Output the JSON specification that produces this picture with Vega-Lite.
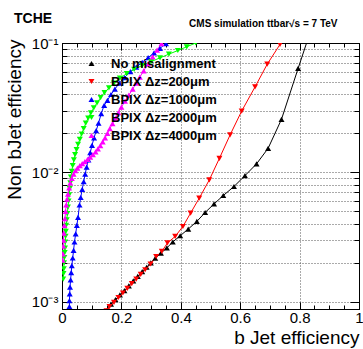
{
  "$schema": "https://vega.github.io/schema/vega-lite/v6.json",
  "width": 297,
  "height": 266,
  "autosize": "none",
  "padding": {"left": 62, "top": 43, "right": 4, "bottom": 40},
  "background": "white",
  "config": {"font": "Liberation Sans", "view": {"stroke": "black", "strokeWidth": 1},
    "legend": {"title": null, "orient": "none", "legendX": 23, "legendY": 14, "padding": 0,
      "labelFont": "Liberation Sans", "labelFontSize": 13, "labelFontWeight": "bold", "labelColor": "black",
      "symbolSize": 36, "symbolStrokeWidth": 0, "symbolOpacity": 1, "rowPadding": 4, "labelOffset": 13, "labelLimit": 300}},
  "title": {"text": "TCHE", "anchor": "start", "frame": "group", "fontSize": 14, "fontWeight": "bold", "font": "Liberation Sans", "color": "black", "dx": -48, "dy": 19, "baseline": "alphabetic", "offset": 0},
  "data": {"values": [
    {"s": "No misalignment", "x": 0.150, "y": 0.00085},
    {"s": "No misalignment", "x": 0.165, "y": 0.00096},
    {"s": "No misalignment", "x": 0.180, "y": 0.00104},
    {"s": "No misalignment", "x": 0.195, "y": 0.00113},
    {"s": "No misalignment", "x": 0.210, "y": 0.00122},
    {"s": "No misalignment", "x": 0.225, "y": 0.00133},
    {"s": "No misalignment", "x": 0.240, "y": 0.00145},
    {"s": "No misalignment", "x": 0.255, "y": 0.00157},
    {"s": "No misalignment", "x": 0.270, "y": 0.00171},
    {"s": "No misalignment", "x": 0.285, "y": 0.00185},
    {"s": "No misalignment", "x": 0.299, "y": 0.00200},
    {"s": "No misalignment", "x": 0.314, "y": 0.00217},
    {"s": "No misalignment", "x": 0.333, "y": 0.00238},
    {"s": "No misalignment", "x": 0.353, "y": 0.00261},
    {"s": "No misalignment", "x": 0.373, "y": 0.00290},
    {"s": "No misalignment", "x": 0.398, "y": 0.00324},
    {"s": "No misalignment", "x": 0.425, "y": 0.00365},
    {"s": "No misalignment", "x": 0.454, "y": 0.00418},
    {"s": "No misalignment", "x": 0.482, "y": 0.00490},
    {"s": "No misalignment", "x": 0.512, "y": 0.00571},
    {"s": "No misalignment", "x": 0.543, "y": 0.00663},
    {"s": "No misalignment", "x": 0.579, "y": 0.00778},
    {"s": "No misalignment", "x": 0.616, "y": 0.00944},
    {"s": "No misalignment", "x": 0.655, "y": 0.01164},
    {"s": "No misalignment", "x": 0.694, "y": 0.01535},
    {"s": "No misalignment", "x": 0.739, "y": 0.0257},
    {"s": "No misalignment", "x": 0.795, "y": 0.0636},
    {"s": "No misalignment", "x": 0.838, "y": 0.126},
    {"s": "BPIX Δz=200μm", "x": 0.150, "y": 0.00085},
    {"s": "BPIX Δz=200μm", "x": 0.160, "y": 0.00092},
    {"s": "BPIX Δz=200μm", "x": 0.175, "y": 0.00099},
    {"s": "BPIX Δz=200μm", "x": 0.190, "y": 0.00108},
    {"s": "BPIX Δz=200μm", "x": 0.205, "y": 0.00117},
    {"s": "BPIX Δz=200μm", "x": 0.220, "y": 0.00127},
    {"s": "BPIX Δz=200μm", "x": 0.235, "y": 0.00138},
    {"s": "BPIX Δz=200μm", "x": 0.250, "y": 0.00150},
    {"s": "BPIX Δz=200μm", "x": 0.265, "y": 0.00163},
    {"s": "BPIX Δz=200μm", "x": 0.280, "y": 0.00177},
    {"s": "BPIX Δz=200μm", "x": 0.298, "y": 0.00196},
    {"s": "BPIX Δz=200μm", "x": 0.317, "y": 0.00224},
    {"s": "BPIX Δz=200μm", "x": 0.336, "y": 0.00245},
    {"s": "BPIX Δz=200μm", "x": 0.355, "y": 0.00285},
    {"s": "BPIX Δz=200μm", "x": 0.381, "y": 0.00320},
    {"s": "BPIX Δz=200μm", "x": 0.407, "y": 0.00382},
    {"s": "BPIX Δz=200μm", "x": 0.433, "y": 0.00485},
    {"s": "BPIX Δz=200μm", "x": 0.462, "y": 0.00632},
    {"s": "BPIX Δz=200μm", "x": 0.496, "y": 0.00875},
    {"s": "BPIX Δz=200μm", "x": 0.530, "y": 0.01285},
    {"s": "BPIX Δz=200μm", "x": 0.566, "y": 0.0195},
    {"s": "BPIX Δz=200μm", "x": 0.605, "y": 0.0298},
    {"s": "BPIX Δz=200μm", "x": 0.650, "y": 0.0458},
    {"s": "BPIX Δz=200μm", "x": 0.691, "y": 0.0686},
    {"s": "BPIX Δz=200μm", "x": 0.734, "y": 0.0975},
    {"s": "BPIX Δz=200μm", "x": 0.755, "y": 0.120},
    {"s": "BPIX Δz=1000μm", "x": 0.025, "y": 0.00082},
    {"s": "BPIX Δz=1000μm", "x": 0.025, "y": 0.00092},
    {"s": "BPIX Δz=1000μm", "x": 0.025, "y": 0.00102},
    {"s": "BPIX Δz=1000μm", "x": 0.026, "y": 0.00115},
    {"s": "BPIX Δz=1000μm", "x": 0.027, "y": 0.00130},
    {"s": "BPIX Δz=1000μm", "x": 0.029, "y": 0.00148},
    {"s": "BPIX Δz=1000μm", "x": 0.031, "y": 0.00168},
    {"s": "BPIX Δz=1000μm", "x": 0.033, "y": 0.00190},
    {"s": "BPIX Δz=1000μm", "x": 0.036, "y": 0.00218},
    {"s": "BPIX Δz=1000μm", "x": 0.039, "y": 0.00250},
    {"s": "BPIX Δz=1000μm", "x": 0.042, "y": 0.00290},
    {"s": "BPIX Δz=1000μm", "x": 0.046, "y": 0.00335},
    {"s": "BPIX Δz=1000μm", "x": 0.050, "y": 0.00390},
    {"s": "BPIX Δz=1000μm", "x": 0.054, "y": 0.00450},
    {"s": "BPIX Δz=1000μm", "x": 0.059, "y": 0.00560},
    {"s": "BPIX Δz=1000μm", "x": 0.063, "y": 0.00640},
    {"s": "BPIX Δz=1000μm", "x": 0.068, "y": 0.00740},
    {"s": "BPIX Δz=1000μm", "x": 0.073, "y": 0.00850},
    {"s": "BPIX Δz=1000μm", "x": 0.078, "y": 0.00970},
    {"s": "BPIX Δz=1000μm", "x": 0.083, "y": 0.01100},
    {"s": "BPIX Δz=1000μm", "x": 0.089, "y": 0.01250},
    {"s": "BPIX Δz=1000μm", "x": 0.095, "y": 0.01420},
    {"s": "BPIX Δz=1000μm", "x": 0.101, "y": 0.0162},
    {"s": "BPIX Δz=1000μm", "x": 0.108, "y": 0.0185},
    {"s": "BPIX Δz=1000μm", "x": 0.115, "y": 0.0210},
    {"s": "BPIX Δz=1000μm", "x": 0.123, "y": 0.0240},
    {"s": "BPIX Δz=1000μm", "x": 0.132, "y": 0.0285},
    {"s": "BPIX Δz=1000μm", "x": 0.142, "y": 0.0330},
    {"s": "BPIX Δz=1000μm", "x": 0.153, "y": 0.0360},
    {"s": "BPIX Δz=1000μm", "x": 0.165, "y": 0.0400},
    {"s": "BPIX Δz=1000μm", "x": 0.178, "y": 0.0440},
    {"s": "BPIX Δz=1000μm", "x": 0.193, "y": 0.0490},
    {"s": "BPIX Δz=1000μm", "x": 0.210, "y": 0.0540},
    {"s": "BPIX Δz=1000μm", "x": 0.230, "y": 0.0600},
    {"s": "BPIX Δz=1000μm", "x": 0.250, "y": 0.0650},
    {"s": "BPIX Δz=1000μm", "x": 0.270, "y": 0.0710},
    {"s": "BPIX Δz=1000μm", "x": 0.290, "y": 0.0770},
    {"s": "BPIX Δz=1000μm", "x": 0.310, "y": 0.0840},
    {"s": "BPIX Δz=1000μm", "x": 0.330, "y": 0.0910},
    {"s": "BPIX Δz=1000μm", "x": 0.350, "y": 0.0990},
    {"s": "BPIX Δz=1000μm", "x": 0.370, "y": 0.108},
    {"s": "BPIX Δz=2000μm", "x": 0.004, "y": 0.00150},
    {"s": "BPIX Δz=2000μm", "x": 0.005, "y": 0.00165},
    {"s": "BPIX Δz=2000μm", "x": 0.006, "y": 0.00180},
    {"s": "BPIX Δz=2000μm", "x": 0.007, "y": 0.00200},
    {"s": "BPIX Δz=2000μm", "x": 0.008, "y": 0.00220},
    {"s": "BPIX Δz=2000μm", "x": 0.009, "y": 0.00240},
    {"s": "BPIX Δz=2000μm", "x": 0.010, "y": 0.00260},
    {"s": "BPIX Δz=2000μm", "x": 0.011, "y": 0.00290},
    {"s": "BPIX Δz=2000μm", "x": 0.012, "y": 0.00320},
    {"s": "BPIX Δz=2000μm", "x": 0.013, "y": 0.00350},
    {"s": "BPIX Δz=2000μm", "x": 0.014, "y": 0.00390},
    {"s": "BPIX Δz=2000μm", "x": 0.016, "y": 0.00430},
    {"s": "BPIX Δz=2000μm", "x": 0.018, "y": 0.00480},
    {"s": "BPIX Δz=2000μm", "x": 0.020, "y": 0.00540},
    {"s": "BPIX Δz=2000μm", "x": 0.022, "y": 0.00600},
    {"s": "BPIX Δz=2000μm", "x": 0.024, "y": 0.00670},
    {"s": "BPIX Δz=2000μm", "x": 0.026, "y": 0.00750},
    {"s": "BPIX Δz=2000μm", "x": 0.028, "y": 0.00830},
    {"s": "BPIX Δz=2000μm", "x": 0.030, "y": 0.00920},
    {"s": "BPIX Δz=2000μm", "x": 0.033, "y": 0.0102},
    {"s": "BPIX Δz=2000μm", "x": 0.036, "y": 0.0113},
    {"s": "BPIX Δz=2000μm", "x": 0.040, "y": 0.0125},
    {"s": "BPIX Δz=2000μm", "x": 0.044, "y": 0.0137},
    {"s": "BPIX Δz=2000μm", "x": 0.049, "y": 0.0150},
    {"s": "BPIX Δz=2000μm", "x": 0.054, "y": 0.0165},
    {"s": "BPIX Δz=2000μm", "x": 0.060, "y": 0.0180},
    {"s": "BPIX Δz=2000μm", "x": 0.066, "y": 0.0198},
    {"s": "BPIX Δz=2000μm", "x": 0.073, "y": 0.0218},
    {"s": "BPIX Δz=2000μm", "x": 0.080, "y": 0.0240},
    {"s": "BPIX Δz=2000μm", "x": 0.088, "y": 0.0263},
    {"s": "BPIX Δz=2000μm", "x": 0.097, "y": 0.0288},
    {"s": "BPIX Δz=2000μm", "x": 0.107, "y": 0.0315},
    {"s": "BPIX Δz=2000μm", "x": 0.118, "y": 0.0345},
    {"s": "BPIX Δz=2000μm", "x": 0.130, "y": 0.0378},
    {"s": "BPIX Δz=2000μm", "x": 0.143, "y": 0.0413},
    {"s": "BPIX Δz=2000μm", "x": 0.158, "y": 0.0450},
    {"s": "BPIX Δz=2000μm", "x": 0.175, "y": 0.0490},
    {"s": "BPIX Δz=2000μm", "x": 0.195, "y": 0.0535},
    {"s": "BPIX Δz=2000μm", "x": 0.218, "y": 0.0580},
    {"s": "BPIX Δz=2000μm", "x": 0.243, "y": 0.0625},
    {"s": "BPIX Δz=2000μm", "x": 0.270, "y": 0.0670},
    {"s": "BPIX Δz=2000μm", "x": 0.300, "y": 0.0718},
    {"s": "BPIX Δz=2000μm", "x": 0.330, "y": 0.0768},
    {"s": "BPIX Δz=2000μm", "x": 0.360, "y": 0.0820},
    {"s": "BPIX Δz=2000μm", "x": 0.390, "y": 0.0875},
    {"s": "BPIX Δz=2000μm", "x": 0.420, "y": 0.0935},
    {"s": "BPIX Δz=2000μm", "x": 0.450, "y": 0.1000},
    {"s": "BPIX Δz=2000μm", "x": 0.480, "y": 0.1070},
    {"s": "BPIX Δz=4000μm", "x": 0.002, "y": 0.00210},
    {"s": "BPIX Δz=4000μm", "x": 0.003, "y": 0.00235},
    {"s": "BPIX Δz=4000μm", "x": 0.004, "y": 0.00270},
    {"s": "BPIX Δz=4000μm", "x": 0.005, "y": 0.00300},
    {"s": "BPIX Δz=4000μm", "x": 0.006, "y": 0.00340},
    {"s": "BPIX Δz=4000μm", "x": 0.008, "y": 0.00390},
    {"s": "BPIX Δz=4000μm", "x": 0.010, "y": 0.00440},
    {"s": "BPIX Δz=4000μm", "x": 0.012, "y": 0.00500},
    {"s": "BPIX Δz=4000μm", "x": 0.014, "y": 0.00560},
    {"s": "BPIX Δz=4000μm", "x": 0.017, "y": 0.00620},
    {"s": "BPIX Δz=4000μm", "x": 0.020, "y": 0.00680},
    {"s": "BPIX Δz=4000μm", "x": 0.024, "y": 0.00760},
    {"s": "BPIX Δz=4000μm", "x": 0.028, "y": 0.00830},
    {"s": "BPIX Δz=4000μm", "x": 0.033, "y": 0.00900},
    {"s": "BPIX Δz=4000μm", "x": 0.039, "y": 0.00970},
    {"s": "BPIX Δz=4000μm", "x": 0.045, "y": 0.0103},
    {"s": "BPIX Δz=4000μm", "x": 0.052, "y": 0.0108},
    {"s": "BPIX Δz=4000μm", "x": 0.060, "y": 0.0113},
    {"s": "BPIX Δz=4000μm", "x": 0.068, "y": 0.0117},
    {"s": "BPIX Δz=4000μm", "x": 0.077, "y": 0.0121},
    {"s": "BPIX Δz=4000μm", "x": 0.086, "y": 0.0126},
    {"s": "BPIX Δz=4000μm", "x": 0.095, "y": 0.0131},
    {"s": "BPIX Δz=4000μm", "x": 0.104, "y": 0.0137},
    {"s": "BPIX Δz=4000μm", "x": 0.113, "y": 0.0144},
    {"s": "BPIX Δz=4000μm", "x": 0.121, "y": 0.0152},
    {"s": "BPIX Δz=4000μm", "x": 0.129, "y": 0.0161},
    {"s": "BPIX Δz=4000μm", "x": 0.137, "y": 0.0172},
    {"s": "BPIX Δz=4000μm", "x": 0.145, "y": 0.0185},
    {"s": "BPIX Δz=4000μm", "x": 0.153, "y": 0.0200},
    {"s": "BPIX Δz=4000μm", "x": 0.161, "y": 0.0218},
    {"s": "BPIX Δz=4000μm", "x": 0.170, "y": 0.0238},
    {"s": "BPIX Δz=4000μm", "x": 0.180, "y": 0.0262},
    {"s": "BPIX Δz=4000μm", "x": 0.190, "y": 0.0290},
    {"s": "BPIX Δz=4000μm", "x": 0.200, "y": 0.0320},
    {"s": "BPIX Δz=4000μm", "x": 0.212, "y": 0.0355},
    {"s": "BPIX Δz=4000μm", "x": 0.225, "y": 0.0395},
    {"s": "BPIX Δz=4000μm", "x": 0.238, "y": 0.0440},
    {"s": "BPIX Δz=4000μm", "x": 0.250, "y": 0.0490},
    {"s": "BPIX Δz=4000μm", "x": 0.262, "y": 0.0545},
    {"s": "BPIX Δz=4000μm", "x": 0.275, "y": 0.0610},
    {"s": "BPIX Δz=4000μm", "x": 0.290, "y": 0.0690},
    {"s": "BPIX Δz=4000μm", "x": 0.305, "y": 0.0780},
    {"s": "BPIX Δz=4000μm", "x": 0.320, "y": 0.0880},
    {"s": "BPIX Δz=4000μm", "x": 0.335, "y": 0.0990},
    {"s": "BPIX Δz=4000μm", "x": 0.350, "y": 0.1100}
  ]},
  "layer": [
    {
      "mark": {"type": "line", "strokeWidth": 1, "clip": true},
      "encoding": {
        "x": {"field": "x", "type": "quantitative", "scale": {"domain": [0, 1], "nice": false, "zero": false},
          "axis": {"orient": "bottom", "values": [0,0.05,0.1,0.15,0.2,0.25,0.3,0.35,0.4,0.45,0.5,0.55,0.6,0.65,0.7,0.75,0.8,0.85,0.9,0.95,1],
            "labelExpr": "abs(datum.value*5 - round(datum.value*5)) < 0.001 ? (datum.value == 0 ? '0' : datum.value == 1 ? '1' : format(datum.value, '.1f')) : ''",
            "grid": true, "gridColor": "#555", "gridDash": [1, 2], "gridWidth": 1,
            "gridOpacity": {"condition": {"test": "abs(datum.value*5 - round(datum.value*5)) < 0.001", "value": 1}, "value": 0},
            "tickSize": {"condition": {"test": "abs(datum.value*5 - round(datum.value*5)) < 0.001", "value": -7}, "value": -4},
            "tickColor": "black", "domainColor": "black", "labelColor": "black",
            "labelFont": "Liberation Sans", "labelFontSize": 15, "labelPadding": 8, "labelFlush": false,
            "title": "b Jet efficiency", "titleFont": "Liberation Sans", "titleFontSize": 19, "titleFontWeight": "normal", "titleColor": "black",
            "titleAlign": "right", "titleBaseline": "alphabetic", "titleX": 297, "titleY": 34}},
        "y": {"field": "y", "type": "quantitative", "scale": {"type": "log", "domain": [0.00088, 0.1], "nice": false},
          "axis": {"orient": "left", "values": [0.001,0.002,0.003,0.004,0.005,0.006,0.007,0.008,0.009,0.01,0.02,0.03,0.04,0.05,0.06,0.07,0.08,0.09,0.1],
            "labelExpr": "datum.value == 0.1 ? '10⁻¹' : datum.value == 0.01 ? '10⁻²' : datum.value == 0.001 ? '10⁻³' : ''",
            "grid": true, "gridColor": "#555", "gridDash": [1, 2], "gridWidth": 1,
            "tickSize": {"condition": {"test": "datum.value == 0.1 || datum.value == 0.01 || datum.value == 0.001", "value": -9}, "value": -5},
            "tickColor": "black", "domainColor": "black", "labelColor": "black",
            "labelFont": "Liberation Sans", "labelFontSize": 15, "labelPadding": 13, "labelFlush": false,
            "title": "Non bJet efficiency", "titleFont": "Liberation Sans", "titleFontSize": 19, "titleFontWeight": "normal", "titleColor": "black",
            "titleAlign": "right", "titleBaseline": "alphabetic", "titleAngle": -90, "titleX": -42, "titleY": -4}},
        "color": {"field": "s", "type": "nominal",
          "scale": {"domain": ["No misalignment", "BPIX Δz=200μm", "BPIX Δz=1000μm", "BPIX Δz=2000μm", "BPIX Δz=4000μm"],
                    "range": ["#000000", "#ff0000", "#0000ff", "#00ff00", "#ff00ff"]}},
        "order": {"field": "y", "type": "quantitative"}
      }
    },
    {
      "mark": {"type": "point", "filled": true, "size": 36, "opacity": 1, "clip": true},
      "encoding": {
        "x": {"field": "x", "type": "quantitative",
          "axis": {"orient": "top", "values": [0,0.05,0.1,0.15,0.2,0.25,0.3,0.35,0.4,0.45,0.5,0.55,0.6,0.65,0.7,0.75,0.8,0.85,0.9,0.95,1],
            "labels": false, "grid": false, "domainColor": "black", "tickColor": "black",
            "tickSize": {"condition": {"test": "abs(datum.value*5 - round(datum.value*5)) < 0.001", "value": -7}, "value": -4},
            "title": "CMS simulation ttbar√s = 7 TeV", "titleFont": "Liberation Sans", "titleFontSize": 10, "titleFontWeight": "bold", "titleColor": "black",
            "titleAlign": "right", "titleBaseline": "alphabetic", "titleX": 275, "titleY": -17}},
        "y": {"field": "y", "type": "quantitative",
          "axis": {"orient": "right", "values": [0.001,0.002,0.003,0.004,0.005,0.006,0.007,0.008,0.009,0.01,0.02,0.03,0.04,0.05,0.06,0.07,0.08,0.09,0.1],
            "labels": false, "grid": false, "domainColor": "black", "tickColor": "black", "title": null,
            "tickSize": {"condition": {"test": "datum.value == 0.1 || datum.value == 0.01 || datum.value == 0.001", "value": -9}, "value": -5}}},
        "color": {"field": "s", "type": "nominal",
          "scale": {"domain": ["No misalignment", "BPIX Δz=200μm", "BPIX Δz=1000μm", "BPIX Δz=2000μm", "BPIX Δz=4000μm"],
                    "range": ["#000000", "#ff0000", "#0000ff", "#00ff00", "#ff00ff"]}},
        "shape": {"field": "s", "type": "nominal",
          "scale": {"domain": ["No misalignment", "BPIX Δz=200μm", "BPIX Δz=1000μm", "BPIX Δz=2000μm", "BPIX Δz=4000μm"],
                    "range": ["triangle-up", "triangle-down", "triangle-up", "triangle-down", "triangle-up"]}}
      }
    }
  ],
  "resolve": {"axis": {"x": "independent", "y": "independent"}}
}
